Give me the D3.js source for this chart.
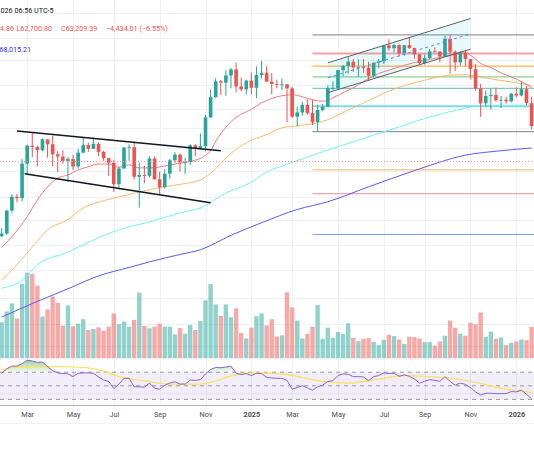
<!DOCTYPE html>
<html>
<head>
<meta charset="utf-8">
<script src="https://cdn.jsdelivr.net/npm/d3@7"></script>
<style>
body{margin:0;background:#fff;}
svg{display:block;font-family:Roboto,"Noto Sans",sans-serif;}
</style>
</head>
<body>
<svg id="chart" width="534" height="462"></svg>
<script>
// weekly bars, first bar = week of 2024-01-29, prices in thousands
var firstBar = Date.UTC(2024, 0, 29);
var open  = [42.0,42.6,48.3,52.1,51.7,62.4,68.9,68.4,67.2,71.3,69.4,65.7,64.9,63.4,64.0,61.5,66.3,69.1,67.7,69.6,66.6,64.3,62.7,55.8,60.8,68.2,68.3,58.1,58.7,58.4,64.2,57.3,54.9,59.1,63.6,65.6,62.9,63.0,69.0,68.0,68.7,80.4,89.8,97.9,97.2,101.1,104.5,95.2,93.7,98.3,94.5,101.3,102.6,97.7,96.5,96.1,96.3,94.2,80.7,82.6,86.1,82.3,78.4,83.7,85.2,94.3,94.4,104.1,106.5,109.0,105.6,105.7,105.5,100.9,108.4,109.2,119.1,117.3,119.4,114.2,119.3,117.4,113.5,108.2,111.2,115.3,115.2,112.2,123.5,115.1,108.6,114.5,110.5,104.7,94.2,86.8,90.4,90.9,88.3,88.5,87.8,91.5,90.6,93.8,86.9];
var high  = [43.9,48.6,52.8,52.9,64.0,69.2,73.8,68.9,71.7,71.3,72.8,66.9,67.2,64.7,65.5,67.7,71.9,70.0,71.9,70.2,67.0,64.5,63.8,61.4,68.3,69.4,70.0,62.7,61.8,65.0,64.9,59.8,60.6,64.1,66.5,66.0,64.5,69.4,69.5,73.6,81.5,93.5,99.6,98.7,104.0,105.3,108.4,99.9,98.9,102.7,106.3,109.6,106.5,102.5,98.8,99.5,96.5,95.0,85.3,87.5,88.8,88.5,86.1,86.5,95.8,97.9,104.3,107.1,112.0,110.7,110.4,110.6,108.9,108.5,110.5,119.5,123.2,120.2,119.8,119.3,124.5,117.6,113.5,113.4,116.8,117.9,115.3,125.7,126.2,116.0,115.5,116.4,110.6,107.5,96.6,93.1,94.2,94.6,90.4,90.0,91.9,94.8,97.9,95.5,90.0];
var low   = [41.8,42.3,47.7,50.6,50.9,59.0,64.6,61.5,66.8,64.5,61.5,59.6,62.4,56.5,60.2,60.7,66.1,66.6,67.6,65.1,63.4,58.4,53.5,54.3,60.6,63.5,57.2,49.1,56.1,57.9,57.2,52.6,54.5,57.5,62.7,59.8,58.9,62.0,65.1,67.5,66.8,80.2,89.4,90.8,90.5,94.2,92.2,92.5,91.2,91.2,89.3,99.4,97.8,91.2,94.1,93.4,78.2,80.0,76.6,81.1,81.6,77.1,74.4,83.1,85.1,93.3,93.4,100.8,102.1,103.1,100.4,102.6,98.2,100.0,105.1,107.5,115.7,114.7,112.0,112.6,116.8,110.7,107.3,107.3,110.6,114.8,108.6,111.9,102.0,103.5,106.7,106.3,98.9,93.0,80.6,85.3,83.8,87.6,84.6,86.6,87.2,89.6,90.2,86.0,75.3];
var close = [42.6,48.3,52.1,51.7,62.4,68.9,68.4,67.2,71.3,69.4,65.7,64.9,63.4,64.0,61.5,66.3,69.1,67.7,69.6,66.6,64.3,62.7,55.8,60.8,68.2,68.3,58.1,58.7,58.4,64.2,57.3,54.9,59.1,63.6,65.6,62.9,63.0,69.0,68.0,68.7,80.4,89.8,97.9,97.2,101.1,104.5,95.2,93.7,98.3,94.5,101.3,102.6,97.7,96.5,96.1,96.3,94.2,80.7,82.6,86.1,82.3,78.4,83.7,85.2,94.3,94.4,104.1,106.5,109.0,105.6,105.7,105.5,100.9,108.4,109.2,119.1,117.3,119.4,114.2,119.3,117.4,113.5,108.2,111.2,115.3,115.2,112.2,123.5,115.1,108.6,114.5,110.5,104.7,94.2,86.8,90.4,90.9,88.3,88.5,87.8,91.5,90.6,93.8,86.9,76.7];
var vol   = [106,138,162,117,220,253,250,215,123,144,182,164,96,156,94,102,115,83,86,91,81,93,132,100,108,93,113,194,95,88,93,102,93,93,70,89,72,98,83,110,171,219,159,125,159,121,147,74,58,90,124,132,97,115,64,67,195,150,111,58,72,93,157,57,90,60,77,71,103,60,50,57,59,48,38,54,69,65,55,42,63,62,58,47,47,37,49,66,111,90,72,66,105,100,135,63,78,57,61,38,45,49,55,53,92];
var rsi   = [68.5,75,79,79,82.5,87.5,86.5,84.5,85,78,72,69,68,67.5,63.5,68.5,69,69,68.5,63,58.5,56.5,46,52.5,61,61,48.5,48.5,48,54,46.5,45,51,54,56,52.5,52.5,58.5,58,59,67.5,74,77,76.5,77.5,79,68.5,66.5,68,65,68.5,68,62.5,61.5,61,61,58,45,47.5,50,47,43.5,48.5,51,56.5,57.5,65,67.5,67,63.5,63.5,63,57.5,63.5,65,69,68,68.5,64,66,64,60,54,56.5,59,58,56.5,63.5,56.5,51,54,52,47.5,41,36.5,39,39,38.5,38.5,38.5,41.5,41,43.5,37.5,31];
var rsiMa = [[0,73.5],[3,77.5],[7,78.5],[13,78],[17,76.5],[20,71.5],[23,63.5],[28,57.5],[33,52.5],[39,52.5],[42,57],[46,66.5],[50,69],[56,66.5],[62,57.5],[68,54],[73,58.5],[79,65],[84,63.5],[88,61.5],[93,55],[99,45],[103,41.5],[104,40]];

// moving averages: [bar, price]
var ema20  = [[0,39.5],[2,41.9],[5,46.7],[7,51.2],[9,55.0],[11,57.7],[13,58.7],[15,60.3],[17,61.4],[19,62.3],[21,62.3],[23,61.2],[25,62.0],[27,61.0],[29,61.0],[31,61.3],[33,62.0],[35,62.6],[37,63.2],[40,65.3],[41,67],[42,70.5],[43,73.5],[45,78.5],[47,81.8],[49,84],[51,87],[53,89.2],[55,90.5],[57,91],[59,90],[61,88.5],[63,87.8],[65,89.5],[67,92],[69,94.5],[73,101],[77,105],[81,108.5],[85,111],[89,113.5],[91,114.5],[92,113],[94,108],[96,105.5],[98,102.5],[100,100.3],[102,97.8],[104,94.6]];
var ema50  = [[0,33.0],[3,35.9],[6,39.6],[9,43.5],[13,46],[16,49],[19,50.6],[22,51.7],[26,53.1],[31,54.8],[36,56],[39,57.1],[41,59.2],[45,66],[48,70],[52,73.2],[55,75.9],[59,77],[63,78.6],[67,82.5],[71,87],[77,93.8],[83,98.5],[88,101.3],[91,101.5],[94,100.2],[97,98.8],[100,97.6],[104,95.6]];
var ema100 = [[0,31.6],[4,33.0],[7,35.9],[13,38.5],[18,41.1],[23,43.5],[29,45.4],[35,47.7],[39,49.0],[44,53.2],[49,56.4],[52,59.6],[56,62.2],[63,66.6],[70,71.0],[78,76.3],[84,80.6],[90,84.0],[93,85.5],[99,85.9],[104,86.0]];
var ema200 = [[0,27.0],[7,29.4],[13,31.5],[19,33.8],[25,35.4],[29,36.5],[35,38.0],[39,39.0],[45,42.2],[51,45.2],[58,48.6],[64,50.7],[72,55.0],[81,60.1],[91,65.4],[98,67.0],[104,68.0]];

// drawings
var triTop = [[3, 74.6], [43, 67.0]];
var triBottom = [[4.5, 59.1], [41, 50.4]];
var chanTop = [[64, 108.3], [92, 138.0]];
var chanBottom = [[64, 92.0], [92, 116.7]];
var fibStart = 61, fibHigh = 126.2, fibLow = 74.4;
var fibLevels = [0, 0.236, 0.382, 0.5, 0.618, 0.786, 1, 1.272, 1.414, 1.618];
var fibColors = ["#9598a1","#f7a1a8","#f9b35b","#8fcf91","#7fc9bd","#80d8e6","#9598a1","#f8c27a","#ef8d95","#7f9cf5"];
var lastPrice = 63.209;

var tickBars = [5, 14, 22, 31, 40, 49, 57, 66, 75, 83, 92, 101];
var tickLabels = ["Mar","May","Jul","Sep","Nov","2025","Mar","May","Jul","Sep","Nov","2026"];
var priceGrid = [23, 26, 30, 35, 40, 46, 52, 60, 68, 76, 84, 96, 110, 124, 142];

var W = 534, paneBottom = 358, axisTop = 405;
var UP = "#26a69a", DOWN = "#ef5350";

function barDate(k){ return new Date(firstBar + k * 7 * 864e5); }
var x = d3.scaleUtc().domain([barDate(-0.334), barDate(104.47)]).range([0, W]);
function bx(k){ return x(barDate(k)); }
var y = d3.scaleLog().domain([21.7, 152.7]).range([357, 0]);
var yVol = d3.scaleLinear().domain([0, 255]).range([paneBottom, 272]);
var yRsi = d3.scaleLinear().domain([0, 100]).range([419.8, 351.8]);

var svg = d3.select("#chart");
var bars = d3.range(close.length);

var defs = svg.append("defs");
defs.append("clipPath").attr("id", "main").append("rect")
  .attr("width", W).attr("height", paneBottom);
defs.append("clipPath").attr("id", "rsipane").append("rect")
  .attr("y", paneBottom).attr("width", W).attr("height", axisTop - paneBottom);
var grad = defs.append("linearGradient").attr("id", "ob")
  .attr("x1", 0).attr("x2", 0).attr("y1", 0).attr("y2", 1);
grad.append("stop").attr("offset", "0%").attr("stop-color", "#4caf50").attr("stop-opacity", 0.55);
grad.append("stop").attr("offset", "100%").attr("stop-color", "#4caf50").attr("stop-opacity", 0.05);

// grid
var grid = svg.append("g").attr("stroke", "#eef1f6").attr("stroke-width", 1);
grid.selectAll(".h").data(priceGrid).join("line")
  .attr("x1", 0).attr("x2", W)
  .attr("y1", d => Math.round(y(d)) + 0.5).attr("y2", d => Math.round(y(d)) + 0.5);
grid.selectAll(".v").data(tickBars).join("line")
  .attr("x1", d => Math.round(bx(d)) + 0.5).attr("x2", d => Math.round(bx(d)) + 0.5)
  .attr("y1", 0).attr("y2", axisTop);
grid.append("line").attr("x1", 0).attr("x2", W)
  .attr("y1", Math.round(yRsi(40)) + 0.5).attr("y2", Math.round(yRsi(40)) + 0.5);

var main = svg.append("g").attr("clip-path", "url(#main)");

// volume
main.append("g").selectAll("rect").data(bars).join("rect")
  .attr("x", d => bx(d) - 2.2).attr("width", 4.4)
  .attr("y", d => yVol(vol[d])).attr("height", d => paneBottom - yVol(vol[d]))
  .attr("fill", d => close[d] >= open[d] ? UP : DOWN)
  .attr("fill-opacity", 0.5);

// fib retracement
var fib = main.append("g");
fib.selectAll("line").data(fibLevels).join("line")
  .attr("x1", bx(fibStart)).attr("x2", W)
  .attr("y1", d => y(fibHigh - d * (fibHigh - fibLow)))
  .attr("y2", d => y(fibHigh - d * (fibHigh - fibLow)))
  .attr("stroke", (d, i) => fibColors[i])
  .attr("stroke-width", (d, i) => (i == 1 || i == 5) ? 2 : 1.2);

// channel
var pt = d => [bx(d[0]), y(d[1])];
main.append("path")
  .attr("d", d3.line()([pt(chanTop[0]), pt(chanTop[1]), pt(chanBottom[1]), pt(chanBottom[0])]) + "Z")
  .attr("fill", "#00bcd4").attr("fill-opacity", 0.09);

// moving averages
var maLine = d3.line().x(d => bx(d[0])).y(d => y(d[1])).curve(d3.curveMonotoneX);
[[ema200, "#5b5bf7"], [ema100, "#74f2f5"], [ema50, "#ffb86c"], [ema20, "#f47b7e"]].forEach(function(m){
  main.append("path").attr("d", maLine(m[0]))
    .attr("fill", "none").attr("stroke", m[1]).attr("stroke-width", 1);
});

// candles
var candles = main.append("g").selectAll("g").data(bars).join("g")
  .attr("fill", d => close[d] >= open[d] ? UP : DOWN)
  .attr("stroke", d => close[d] >= open[d] ? UP : DOWN);
candles.append("line")
  .attr("x1", d => bx(d)).attr("x2", d => bx(d))
  .attr("y1", d => y(high[d])).attr("y2", d => y(low[d]))
  .attr("stroke-width", 1);
candles.append("rect")
  .attr("x", d => bx(d) - 1.8).attr("width", 3.6)
  .attr("y", d => y(Math.max(open[d], close[d])))
  .attr("height", d => Math.max(0.8, Math.abs(y(open[d]) - y(close[d]))))
  .attr("stroke", "none");

// channel lines
main.append("line").datum(chanTop)
  .attr("x1", d => bx(d[0][0])).attr("y1", d => y(d[0][1]))
  .attr("x2", d => bx(d[1][0])).attr("y2", d => y(d[1][1]))
  .attr("stroke", "#5d606b").attr("stroke-width", 1);
main.append("line").datum(chanBottom)
  .attr("x1", d => bx(d[0][0])).attr("y1", d => y(d[0][1]))
  .attr("x2", d => bx(d[1][0])).attr("y2", d => y(d[1][1]))
  .attr("stroke", "#5d606b").attr("stroke-width", 1);
main.append("line")
  .attr("x1", bx(chanTop[0][0])).attr("y1", (y(chanTop[0][1]) + y(chanBottom[0][1])) / 2)
  .attr("x2", bx(chanTop[1][0])).attr("y2", (y(chanTop[1][1]) + y(chanBottom[1][1])) / 2)
  .attr("stroke", "#5f87f0").attr("stroke-width", 1).attr("stroke-dasharray", "3,3");

// triangle
[triTop, triBottom].forEach(function(t){
  main.append("line")
    .attr("x1", bx(t[0][0])).attr("y1", y(t[0][1]))
    .attr("x2", bx(t[1][0])).attr("y2", y(t[1][1]))
    .attr("stroke", "#131722").attr("stroke-width", 1.6);
});

// last price line
main.append("line").attr("x1", 0).attr("x2", W)
  .attr("y1", y(lastPrice)).attr("y2", y(lastPrice))
  .attr("stroke", "#f48a90").attr("stroke-width", 1).attr("stroke-dasharray", "1,2");

// rsi pane
var rp = svg.append("g").attr("clip-path", "url(#rsipane)");
rp.append("rect").attr("x", 0).attr("width", W)
  .attr("y", yRsi(70)).attr("height", yRsi(30) - yRsi(70))
  .attr("fill", "#7e57c2").attr("fill-opacity", 0.1);
rp.append("path")
  .attr("d", d3.area().x(d => bx(d)).y0(yRsi(70)).y1(d => yRsi(Math.max(70, rsi[d])))(bars))
  .attr("fill", "url(#ob)");
rp.selectAll(".band").data([70, 50, 30]).join("line")
  .attr("x1", 0).attr("x2", W)
  .attr("y1", d => yRsi(d)).attr("y2", d => yRsi(d))
  .attr("stroke", "#9598a1").attr("stroke-width", 1).attr("stroke-dasharray", "4,4");
rp.append("path")
  .attr("d", d3.line().x(d => bx(d[0])).y(d => yRsi(d[1])).curve(d3.curveMonotoneX)(rsiMa))
  .attr("fill", "none").attr("stroke", "#fbe05a").attr("stroke-width", 1.2);
rp.append("path")
  .attr("d", d3.line().x(d => bx(d)).y(d => yRsi(rsi[d]))(bars))
  .attr("fill", "none").attr("stroke", "#8a63d2").attr("stroke-width", 1);

// pane borders
svg.append("line").attr("x1", 0).attr("x2", W).attr("y1", paneBottom + 0.5).attr("y2", paneBottom + 0.5)
  .attr("stroke", "#e9ecf2");
svg.append("line").attr("x1", 0).attr("x2", W).attr("y1", axisTop + 0.5).attr("y2", axisTop + 0.5)
  .attr("stroke", "#b2b5be").attr("stroke-width", 1.2);
svg.append("line").attr("x1", 0).attr("x2", W).attr("y1", 423.5).attr("y2", 423.5)
  .attr("stroke", "#f0f3fa");

// time axis
var xAxis = d3.axisBottom(x)
  .tickValues(tickBars.map(barDate))
  .tickFormat((d, i) => tickLabels[i])
  .tickSize(0).tickPadding(7);
var ax = svg.append("g").attr("transform", "translate(0," + axisTop + ")").call(xAxis);
ax.select(".domain").remove();
ax.selectAll("text")
  .attr("font-size", 7.3).attr("fill", "#4a4e59")
  .attr("font-family", "Roboto, sans-serif")
  .attr("font-weight", d => d.getUTCMonth() == 0 ? 700 : 400);

// legend header
var head = svg.append("g").attr("font-size", 7.2);
head.append("text").attr("x", 0.5).attr("y", 12.5).attr("fill", "#131722").text("026 06:56 UTC-5");
var ohlc = [["4.86", 0], ["L62,700.80", 16.5], ["C63,209.39", 61], ["\u22124,434.01 (\u22126.55%)", 106]];
head.selectAll(".o").data(ohlc).join("text")
  .attr("x", d => d[1]).attr("y", 30.5).attr("fill", "#ef5350").text(d => d[0]);
head.append("text").attr("x", -0.5).attr("y", 52).attr("fill", "#2f2ff0").text("68,015.21");
</script>
</body>
</html>
